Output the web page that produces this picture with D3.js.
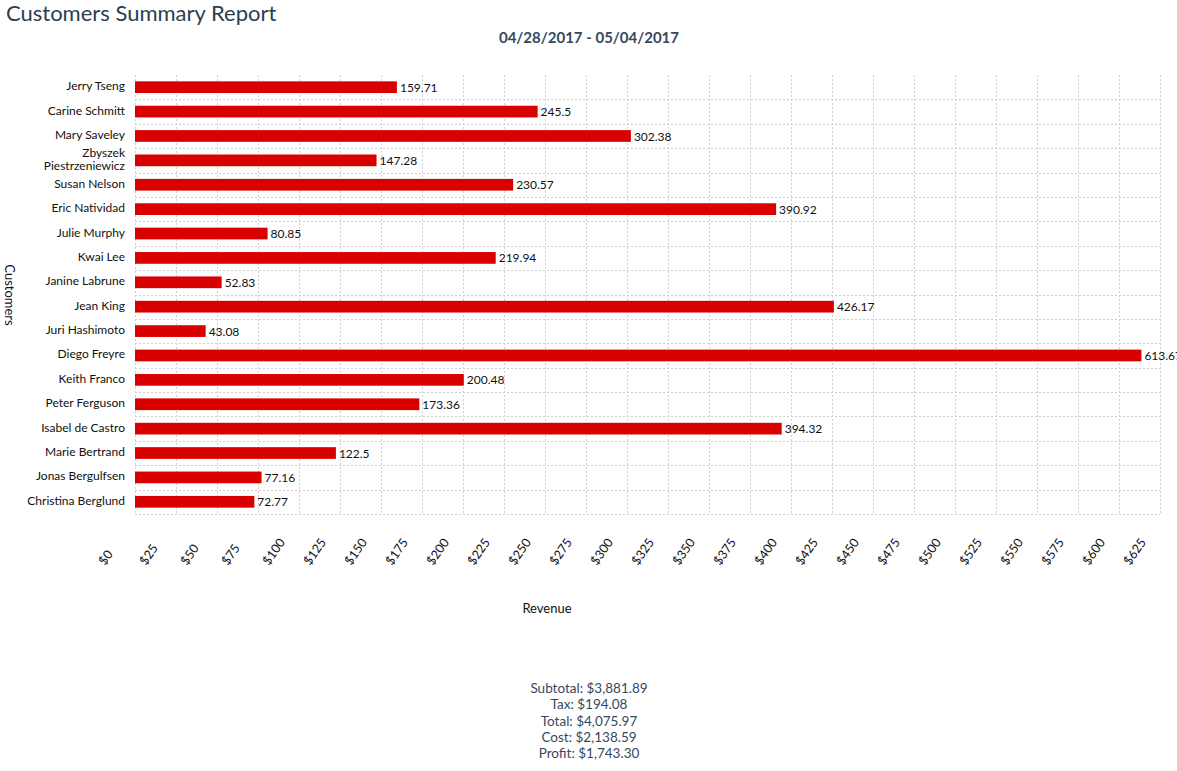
<!DOCTYPE html>
<html>
<head>
<meta charset="utf-8">
<script src="https://cdnjs.cloudflare.com/ajax/libs/d3/7.8.5/d3.min.js"></script>
<style>
  body { margin: 0; background: #fff; font-family: Lato, "Open Sans", sans-serif; }
  svg { display: block; }
</style>
</head>
<body>
<script>
// chart data
var customers = ["Jerry Tseng", "Carine Schmitt", "Mary Saveley", "Zbyszek Piestrzeniewicz",
  "Susan Nelson", "Eric Natividad", "Julie Murphy", "Kwai Lee", "Janine Labrune", "Jean King",
  "Juri Hashimoto", "Diego Freyre", "Keith Franco", "Peter Ferguson", "Isabel de Castro",
  "Marie Bertrand", "Jonas Bergulfsen", "Christina Berglund"];
var revenue = [159.71, 245.5, 302.38, 147.28, 230.57, 390.92, 80.85, 219.94, 52.83, 426.17,
  43.08, 613.67, 200.48, 173.36, 394.32, 122.5, 77.16, 72.77];
var ticks = d3.range(0, 626, 25);
var summary = ["Subtotal: $3,881.89", "Tax: $194.08", "Total: $4,075.97", "Cost: $2,138.59", "Profit: $1,743.30"];

var W = 1177, H = 771;
var plot = {left: 135, right: 1160, top: 75, bottom: 514};

var svg = d3.select("body").append("svg")
    .attr("width", W)
    .attr("height", H);

var x = d3.scaleLinear().domain([0, 625]).range([plot.left, plot.right]);
var y = d3.scaleBand().domain(customers).range([plot.top, plot.bottom]).paddingInner(0.52).paddingOuter(0.26);
var yb = d3.scaleBand().domain(customers).range([plot.top, plot.bottom]);

// title
svg.append("text")
    .attr("x", 6).attr("y", 21)
    .attr("fill", "#2c3e50")
    .style("font-size", "22px")
    .text("Customers Summary Report");

svg.append("text")
    .attr("x", 589).attr("y", 43)
    .attr("text-anchor", "middle")
    .attr("fill", "#34495e")
    .style("font-size", "15px")
    .style("font-weight", "bold")
    .text("04/28/2017 - 05/04/2017");

// grid
var grid = svg.append("g").attr("stroke", "#d0d0d0").attr("stroke-dasharray", "2,2");
grid.selectAll("line.v")
    .data(ticks)
    .enter().append("line")
    .attr("class", "v")
    .attr("x1", function(d) { return x(d) + 0.5; })
    .attr("x2", function(d) { return x(d) + 0.5; })
    .attr("y1", plot.top)
    .attr("y2", plot.bottom);
grid.selectAll("line.h")
    .data(customers.slice(1).concat([null]))
    .enter().append("line")
    .attr("class", "h")
    .attr("x1", plot.left)
    .attr("x2", plot.right)
    .attr("y1", function(d) { return d ? Math.round(yb(d)) + 0.5 : plot.bottom + 0.5; })
    .attr("y2", function(d) { return d ? Math.round(yb(d)) + 0.5 : plot.bottom + 0.5; });

// bars
svg.selectAll("rect.bar")
    .data(revenue)
    .enter().append("rect")
    .attr("class", "bar")
    .attr("x", x(0))
    .attr("y", function(d, i) { return y(customers[i]); })
    .attr("width", function(d) { return x(d) - x(0); })
    .attr("height", y.bandwidth())
    .attr("fill", "#d90000");

// value labels
svg.selectAll("text.val")
    .data(revenue)
    .enter().append("text")
    .attr("class", "val")
    .attr("x", function(d) { return x(d) + 3; })
    .attr("y", function(d, i) { return y(customers[i]) + y.bandwidth() / 2; })
    .attr("dy", "0.38em")
    .style("font-size", "12px")
    .attr("fill", "#111")
    .text(function(d) { return d; });

// category labels (long name wraps onto two lines)
var lines = [];
customers.forEach(function(c) {
  var parts = c === "Zbyszek Piestrzeniewicz" ? c.split(" ") : [c];
  parts.forEach(function(p, k) {
    lines.push({name: c, text: p, off: (k - (parts.length - 1) / 2) * 13});
  });
});
svg.selectAll("text.cat")
    .data(lines)
    .enter().append("text")
    .attr("class", "cat")
    .attr("text-anchor", "end")
    .attr("x", 125)
    .attr("y", function(d) { return y(d.name) + y.bandwidth() / 2 + d.off; })
    .attr("dy", "0.25em")
    .style("font-size", "12px")
    .attr("fill", "#111")
    .text(function(d) { return d.text; });

// x tick labels
svg.selectAll("text.tick")
    .data(ticks)
    .enter().append("text")
    .attr("class", "tick")
    .attr("text-anchor", "start")
    .attr("transform", function(d) { return "translate(" + (x(d) - 30) + ",566) rotate(-55)"; })
    .style("font-size", "12.5px")
    .attr("fill", "#111")
    .text(function(d) { return "$" + d; });

// axis titles
svg.append("text")
    .attr("x", 547).attr("y", 613)
    .attr("text-anchor", "middle")
    .style("font-size", "13px")
    .attr("fill", "#111")
    .text("Revenue");

svg.append("text")
    .attr("transform", "translate(5,295) rotate(90)")
    .attr("text-anchor", "middle")
    .style("font-size", "13px")
    .attr("fill", "#111")
    .text("Customers");

// summary lines
svg.selectAll("text.sum")
    .data(summary)
    .enter().append("text")
    .attr("class", "sum")
    .attr("x", 589)
    .attr("y", function(d, i) { return 693 + i * 16.3; })
    .attr("text-anchor", "middle")
    .style("font-size", "13.5px")
    .attr("fill", "#34495e")
    .text(function(d) { return d; });
</script>
</body>
</html>
